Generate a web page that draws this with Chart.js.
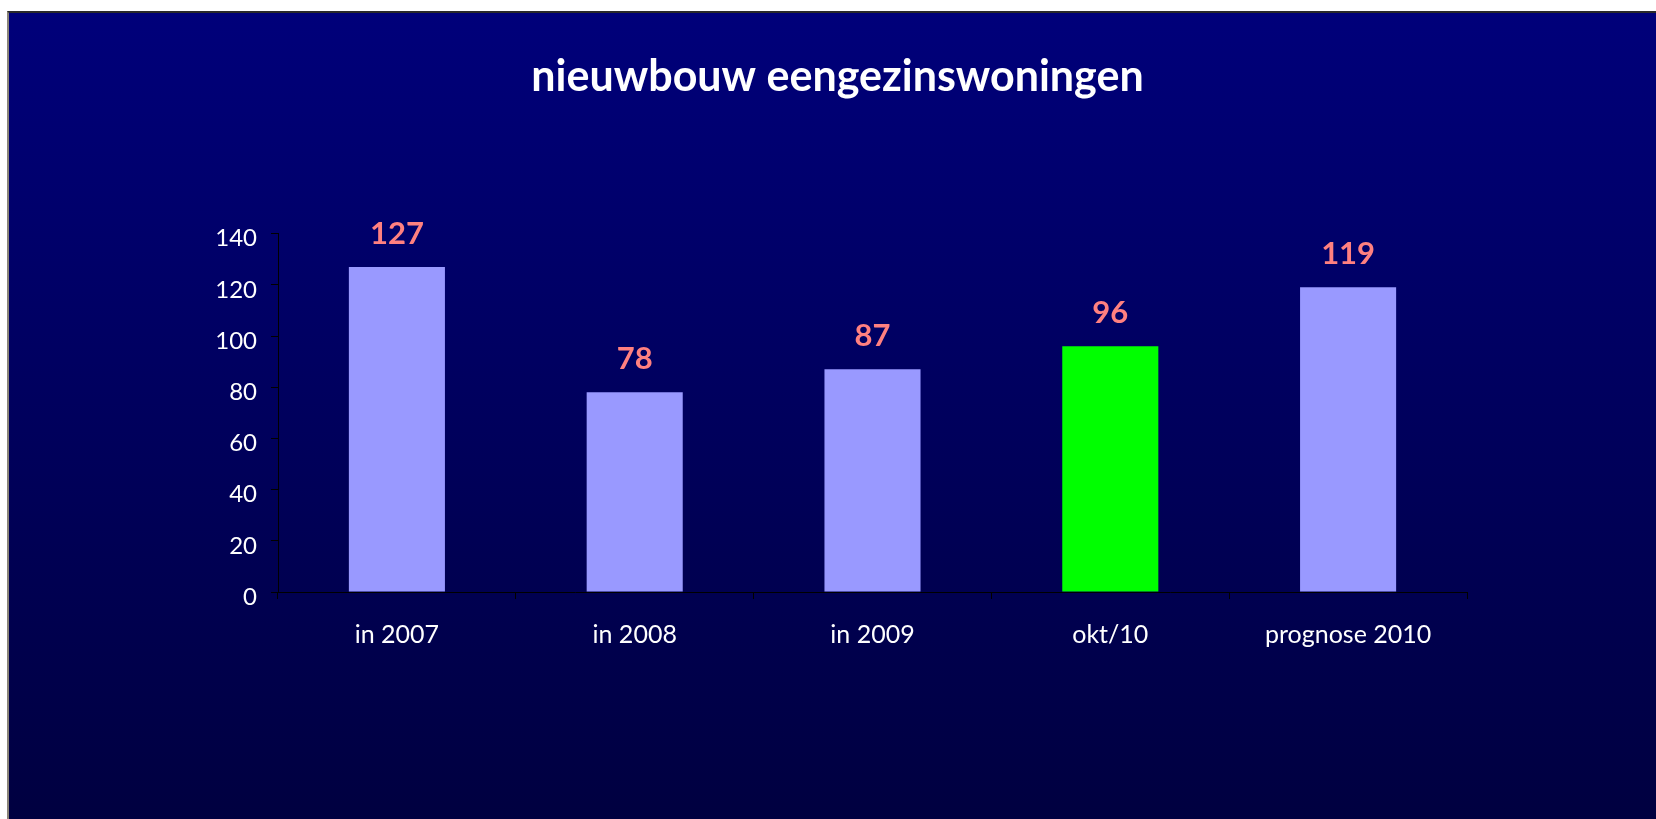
<!DOCTYPE html>
<html>
<head>
<meta charset="utf-8">
<title>nieuwbouw eengezinswoningen</title>
<script src="https://cdn.jsdelivr.net/npm/chart.js@4/dist/chart.umd.min.js"></script>
<style>
    html, body { margin: 0; padding: 0; background: #fff; }
    .wrap { position: relative; width: 1656px; height: 819px; overflow: hidden; }
    .frame {
        position: absolute; left: 7px; top: 11px; right: 0; bottom: 0;
        border-top: 2px solid #2a2a2a; border-left: 2px solid #8a8478;
        background: linear-gradient(to bottom, #00007a 0%, #000040 100%);
    }
    #canvas { position: absolute; left: 0; top: 0; }
</style>
</head>
<body>
<div class="wrap">
    <div class="frame"></div>
    <canvas id="canvas" width="1656" height="819"></canvas>
</div>
<script>
"use strict";

const categories = ['in 2007', 'in 2008', 'in 2009', 'okt/10', 'prognose 2010'];
const values = [127, 78, 87, 96, 119];
const barColors = ['#9999ff', '#9999ff', '#9999ff', '#00ff00', '#9999ff'];
const yTicks = [0, 20, 40, 60, 80, 100, 120, 140];

// value labels above the bars
const valueLabels = {
    id: 'valueLabels',
    afterDatasetsDraw(chart) {
        const ctx = chart.ctx;
        const meta = chart.getDatasetMeta(0);
        ctx.save();
        ctx.font = 'bold 31px Lato';
        ctx.fillStyle = '#ff8080';
        ctx.textAlign = 'center';
        ctx.textBaseline = 'alphabetic';
        meta.data.forEach(function (bar, i) {
            ctx.fillText(String(values[i]), bar.x, bar.y - 23);
        });
        ctx.restore();
    }
};

window.onload = function () {
    const ctx = document.getElementById('canvas').getContext('2d');
    window.myBar = new Chart(ctx, {
        type: 'bar',
        data: {
            labels: categories,
            datasets: [{
                label: 'nieuwbouw',
                data: values,
                backgroundColor: barColors,
                borderWidth: 0,
                categoryPercentage: 1,
                barPercentage: 0.404
            }]
        },
        options: {
            responsive: false,
            animation: false,
            layout: {
                padding: { left: 208, right: 189, top: 0, bottom: 0 }
            },
            plugins: {
                legend: { display: false },
                tooltip: { enabled: false },
                title: {
                    display: true,
                    text: 'nieuwbouw eengezinswoningen',
                    color: '#ffffff',
                    font: { family: 'Lato', size: 43, weight: 'bold' },
                    padding: { top: 51, bottom: 131 }
                }
            },
            scales: {
                x: {
                    afterFit: function (scale) { scale.height = 227; },
                    grid: {
                        drawOnChartArea: false,
                        drawTicks: true,
                        tickLength: 7,
                        color: '#000000'
                    },
                    border: { display: true, color: '#000000', width: 1 },
                    ticks: {
                        color: '#ffffff',
                        font: { family: 'Lato', size: 25 },
                        padding: 21,
                        maxRotation: 0
                    }
                },
                y: {
                    min: 0,
                    max: 140,
                    afterFit: function (scale) { scale.width = 70; },
                    afterBuildTicks: function (scale) {
                        scale.ticks = yTicks.map(v => ({ value: v }));
                    },
                    grid: {
                        drawOnChartArea: false,
                        drawTicks: true,
                        tickLength: 7,
                        color: '#000000'
                    },
                    border: { display: true, color: '#000000', width: 1 },
                    ticks: {
                        color: '#ffffff',
                        font: { family: 'Lato', size: 24 },
                        padding: 14,
                        labelOffset: 5
                    }
                }
            }
        },
        plugins: [valueLabels]
    });
};
</script>
</body>
</html>
